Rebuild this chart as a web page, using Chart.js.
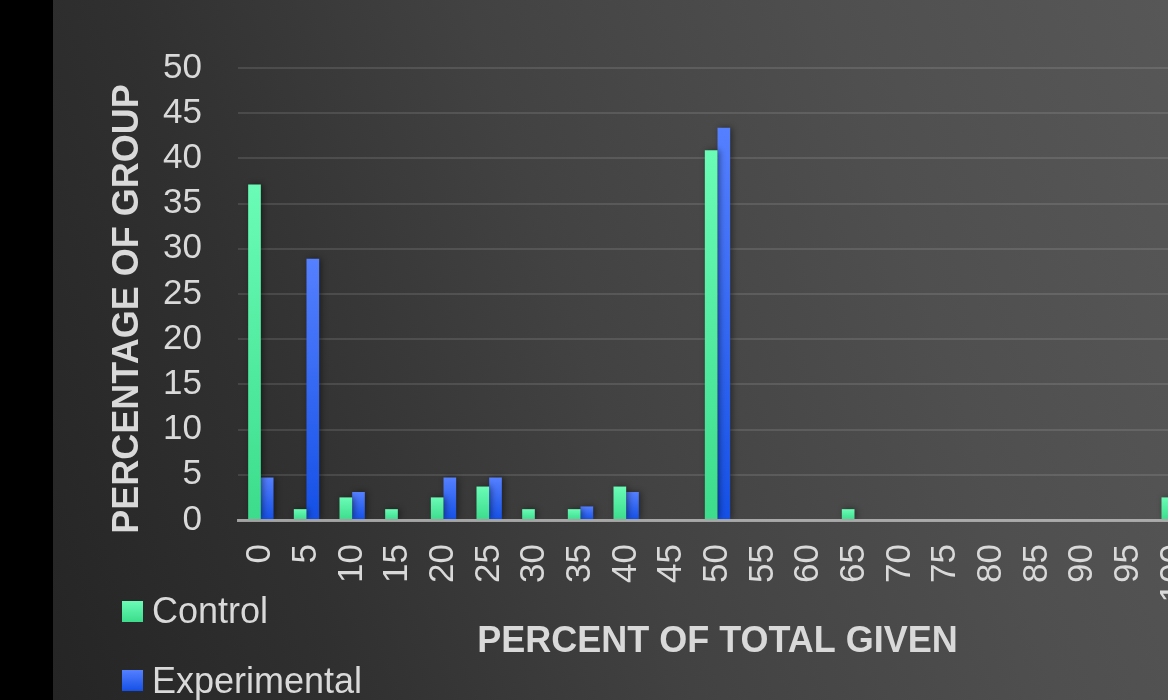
<!DOCTYPE html>
<html>
<head>
<meta charset="utf-8">
<script src="https://cdn.jsdelivr.net/npm/chart.js@4.4.1/dist/chart.umd.min.js"></script>
<style>
    html, body {
        margin: 0;
        padding: 0;
        width: 1168px;
        height: 700px;
        overflow: hidden;
        background: #000;
        font-family: 'Liberation Sans', Arial, sans-serif;
    }
    #bg {
        position: absolute;
        left: 53px;
        top: 0;
        width: 1115px;
        height: 700px;
        background: linear-gradient(72deg, #252525 0%, #303030 22%, #424242 48%, #4f4f4f 75%, #575757 100%);
    }
    #chart {
        position: absolute;
        left: 0;
        top: 0;
        width: 1200px;
        height: 700px;
    }
    #legend {
        position: absolute;
        left: 122px;
        top: 590px;
        color: #d9d9d9;
        font-size: 36px;
    }
    .item {
        display: flex;
        align-items: center;
        height: 42px;
        margin-bottom: 27.5px;
    }
    .swatch {
        width: 21px;
        height: 21px;
        margin-right: 9px;
    }
</style>
</head>
<body>
<div id="bg"></div>
<canvas id="chart" width="1200" height="700"></canvas>
<div id="legend"></div>

<script>
// Datos
const categories = ['0', '5', '10', '15', '20', '25', '30', '35', '40', '45', '50',
    '55', '60', '65', '70', '75', '80', '85', '90', '95', '100'];
const seriesNames = ['Control', 'Experimental'];
const controlValues = [37.1, 1.2, 2.5, 1.2, 2.5, 3.7, 1.2, 1.2, 3.7, 0, 40.9,
    0, 0, 1.2, 0, 0, 0, 0, 0, 0, 2.5];
const experimentalValues = [4.7, 28.9, 3.1, 0, 4.7, 4.7, 0, 1.5, 3.1, 0, 43.4,
    0, 0, 0, 0, 0, 0, 0, 0, 0, 0];
const yMin = 0;
const yMax = 50;
const yStep = 5;

const textColor = '#d9d9d9';
const fontFamily = "'Liberation Sans', Arial, sans-serif";
const greenTop = '#6afcb6', greenBottom = '#3cdc8c';
const blueTop = '#5580ff', blueBottom = '#1450e6';

Chart.defaults.font.family = fontFamily;

// Degradado vertical por barra (como el relleno de Excel)
function barFill(top, bottom) {
    return function (c) {
        const chart = c.chart;
        const y = chart.scales && chart.scales.y;
        if (!y || c.raw == null) return top;
        const y0 = y.getPixelForValue(0);
        const y1 = y.getPixelForValue(c.raw);
        if (!isFinite(y0) || !isFinite(y1) || y0 === y1) return top;
        const g = chart.ctx.createLinearGradient(0, y1, 0, y0);
        g.addColorStop(0, top);
        g.addColorStop(1, bottom);
        return g;
    };
}

const barShadow = {
    id: 'barShadow',
    beforeDatasetsDraw(chart) {
        const ctx = chart.ctx;
        ctx.save();
        ctx.shadowColor = 'rgba(0, 0, 0, 0.45)';
        ctx.shadowBlur = 6;
        ctx.shadowOffsetX = 2;
        ctx.shadowOffsetY = 0;
    },
    afterDatasetsDraw(chart) {
        chart.ctx.restore();
    }
};

const chart = new Chart(document.getElementById('chart'), {
    type: 'bar',
    data: {
        labels: categories,
        datasets: [{
            label: seriesNames[0],
            data: controlValues,
            backgroundColor: barFill(greenTop, greenBottom),
            borderWidth: 0
        }, {
            label: seriesNames[1],
            data: experimentalValues,
            backgroundColor: barFill(blueTop, blueBottom),
            borderWidth: 0
        }]
    },
    options: {
        responsive: false,
        animation: false,
        devicePixelRatio: 1,
        layout: {
            padding: { top: 68, right: 3, bottom: 0, left: 0 }
        },
        datasets: {
            bar: { categoryPercentage: 0.555, barPercentage: 1 }
        },
        plugins: {
            legend: { display: false },
            tooltip: { enabled: false }
        },
        scales: {
            x: {
                grid: { display: false, drawTicks: false },
                border: { display: true, color: 'rgba(195, 195, 195, 0.75)', width: 3, z: 1 },
                ticks: {
                    color: textColor,
                    font: { size: 35 },
                    padding: 24,
                    minRotation: 90,
                    maxRotation: 90,
                    autoSkip: false
                },
                title: {
                    display: true,
                    text: 'PERCENT OF TOTAL GIVEN',
                    color: textColor,
                    font: { size: 36, weight: 'bold' },
                    padding: { top: 0, bottom: 36 }
                },
                afterFit(scale) {
                    scale.height = 180;
                    // el gráfico original sigue más allá del borde derecho
                    scale.paddingLeft = 0;
                    scale.paddingRight = 0;
                }
            },
            y: {
                min: yMin,
                max: yMax,
                grid: { color: 'rgba(255, 255, 255, 0.11)', lineWidth: 2, drawTicks: false },
                border: { display: false },
                ticks: {
                    stepSize: yStep,
                    color: textColor,
                    font: { size: 35 },
                    padding: 36
                },
                title: {
                    display: true,
                    text: 'PERCENTAGE OF GROUP   ',
                    color: textColor,
                    font: { size: 36, weight: 'bold' },
                    padding: { top: 106, bottom: 0 }
                },
                afterFit(scale) { scale.width = 238; }
            }
        }
    },
    plugins: [barShadow]
});

// Leyenda vertical abajo a la izquierda
const legend = document.getElementById('legend');
[[greenTop, greenBottom], [blueTop, blueBottom]].forEach((c, i) => {
    const item = document.createElement('div');
    item.className = 'item';
    item.innerHTML = `<span class="swatch" style="background: linear-gradient(${c[0]}, ${c[1]});"></span><span>${seriesNames[i]}</span>`;
    legend.appendChild(item);
});
</script>
</body>
</html>
